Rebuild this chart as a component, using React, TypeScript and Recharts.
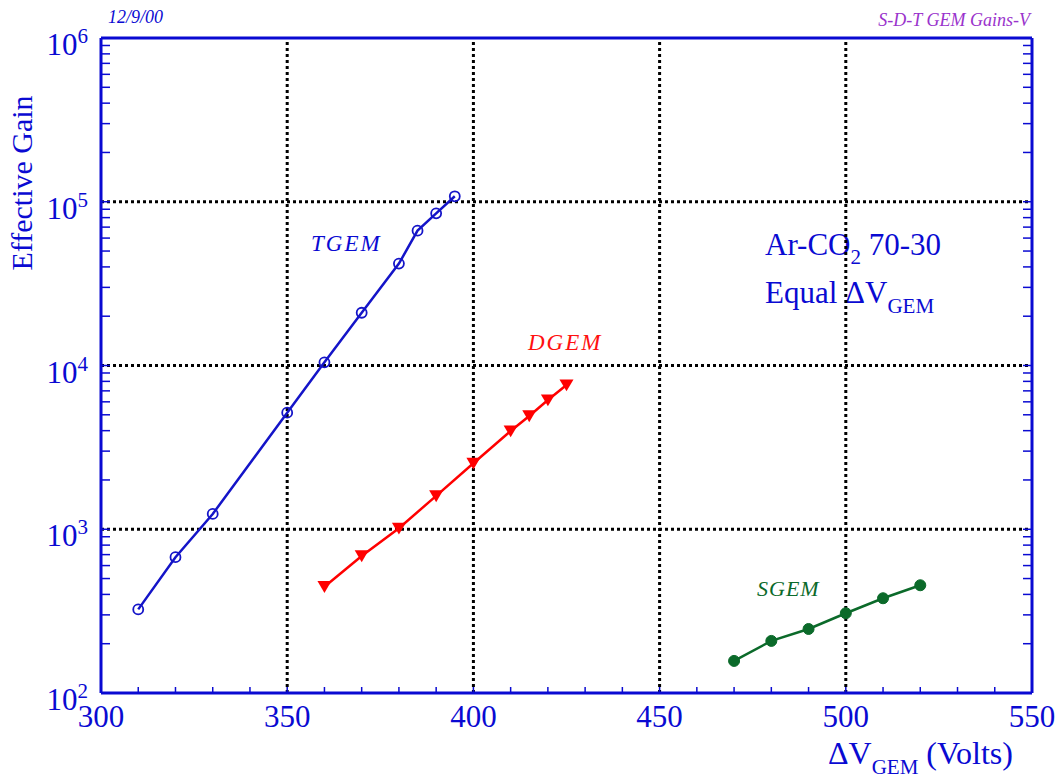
import React from 'react'
import {
  LineChart, Line, XAxis, YAxis, ReferenceLine, Customized,
} from 'recharts'

const tgemV = [310, 320, 330, 350, 360, 370, 380, 385, 390, 395]
const tgemGain = [324, 675, 1240, 5150, 10460, 21000, 41900, 66600, 85000, 108000]

const dgemV = [360, 370, 380, 390, 400, 410, 415, 420, 425]
const dgemGain = [446, 687, 1014, 1600, 2530, 3980, 4920, 6150, 7600]

const sgemV = [470, 480, 490, 500, 510, 520]
const sgemGain = [157, 208, 246, 307, 379, 455]

const xTicks = [300, 310, 320, 330, 340, 350, 360, 370, 380, 390, 400, 410, 420, 430, 440, 450,
  460, 470, 480, 490, 500, 510, 520, 530, 540, 550]
const xMajor = [300, 350, 400, 450, 500, 550]
const xGrid = [350, 400, 450, 500]

const yTicks = [
  100, 200, 300, 400, 500, 600, 700, 800, 900,
  1000, 2000, 3000, 4000, 5000, 6000, 7000, 8000, 9000,
  10000, 20000, 30000, 40000, 50000, 60000, 70000, 80000, 90000,
  100000, 200000, 300000, 400000, 500000, 600000, 700000, 800000, 900000,
  1000000,
]
const yGrid = [1000, 10000, 100000]

const tgem = tgemV.map((v, i) => ({ v, g: tgemGain[i] }))
const dgem = dgemV.map((v, i) => ({ v, g: dgemGain[i] }))
const sgem = sgemV.map((v, i) => ({ v, g: sgemGain[i] }))

const BLUE = '#0a0ad2'
const FONT = '"Liberation Serif", "Times New Roman", serif'

const isPow10 = (v: number) => Math.abs(Math.log10(v) - Math.round(Math.log10(v))) < 1e-9

const BottomTick = (props: any) => {
  const { x, y, payload } = props
  const major = xMajor.includes(payload.value)
  return (
    <g>
      <line x1={x} x2={x} y1={y} y2={y - 6} stroke={BLUE} strokeWidth={1.5} />
      {major && (
        <text x={x} y={y + 34} textAnchor="middle" fill={BLUE} fontSize={31} fontFamily={FONT}>
          {payload.value}
        </text>
      )}
    </g>
  )
}

const TopTick = (props: any) => {
  const { x, y } = props
  return <line x1={x} x2={x} y1={y} y2={y + 6} stroke={BLUE} strokeWidth={1.5} />
}

const LeftTick = (props: any) => {
  const { x, y, payload } = props
  const major = isPow10(payload.value)
  return (
    <g>
      <line x1={x} x2={x + 9} y1={y} y2={y} stroke={BLUE} strokeWidth={1.5} />
      {major && (
        <text x={x - 13} y={y + 17} textAnchor="end" fill={BLUE} fontFamily={FONT}>
          <tspan fontSize={31}>10</tspan>
          <tspan fontSize={21} dy={-12}>{Math.round(Math.log10(payload.value))}</tspan>
        </text>
      )}
    </g>
  )
}

const RightTick = (props: any) => {
  const { x, y } = props
  return <line x1={x} x2={x - 9} y1={y} y2={y} stroke={BLUE} strokeWidth={1.5} />
}

const TriangleDot = (props: any) => {
  const { cx, cy, index } = props
  if (cx == null || cy == null) return <g key={index} />
  const s = 7
  return (
    <path key={index} d={`M${cx - s},${cy - s * 0.8} L${cx + s},${cy - s * 0.8} L${cx},${cy + s * 0.9} Z`}
      fill="#ff0000" />
  )
}

const Annotations = () => (
  <g fontFamily={FONT}>
    <text x={108} y={23} fontSize={18} fontStyle="italic" fill={BLUE}>12/9/00</text>
    <text x={1030} y={26} fontSize={18} fontStyle="italic" fill="#9a33cc" textAnchor="end">S-D-T GEM Gains-V</text>
    <text x={22} y={183} fontSize={30} fill={BLUE} textAnchor="middle" transform="rotate(-90 22 183)" dy={10}>
      Effective Gain
    </text>
    <text x={828} y={764} fontSize={32} fill={BLUE}>
      ΔV<tspan fontSize={21} dy={10}>GEM</tspan><tspan dy={-10}> (Volts)</tspan>
    </text>
    <text x={311} y={251} fontSize={23} fontStyle="italic" fill={BLUE} letterSpacing={2}>TGEM</text>
    <text x={528} y={350} fontSize={23} fontStyle="italic" fill="#ff1010" letterSpacing={2}>DGEM</text>
    <text x={757} y={596} fontSize={22} fontStyle="italic" fill="#0b6a2a" letterSpacing={1}>SGEM</text>
    <text x={765} y={255} fontSize={31} fill={BLUE}>
      Ar-CO<tspan fontSize={21} dy={9}>2</tspan><tspan dy={-9}> 70-30</tspan>
    </text>
    <text x={765} y={303} fontSize={31} fill={BLUE}>
      Equal ΔV<tspan fontSize={21} dy={10}>GEM</tspan>
    </text>
  </g>
)

export default function App() {
  return (
    <div style={{ position: 'absolute', left: 0, top: 0, background: '#fff' }}>
      <LineChart width={1063} height={781} margin={{ top: 28, right: 21, bottom: 48, left: 41 }}>
        <XAxis
          xAxisId={0} dataKey="v" type="number" domain={[300, 550]} ticks={xTicks}
          allowDataOverflow interval={0}
          height={40} tickSize={0} tickMargin={0}
          axisLine={{ stroke: BLUE, strokeWidth: 3 }} tickLine={false} tick={<BottomTick />}
        />
        <XAxis
          xAxisId="top" orientation="top" type="number" domain={[300, 550]} ticks={xTicks}
          allowDataOverflow interval={0}
          height={10} tickSize={0} tickMargin={0}
          axisLine={{ stroke: BLUE, strokeWidth: 3 }} tickLine={false} tick={<TopTick />}
        />
        <YAxis
          yAxisId={0} dataKey="g" type="number" scale="log" domain={[100, 1000000]} ticks={yTicks}
          allowDataOverflow interval={0}
          width={60} tickSize={0} tickMargin={0}
          axisLine={{ stroke: BLUE, strokeWidth: 3 }} tickLine={false} tick={<LeftTick />}
        />
        <YAxis
          yAxisId="right" orientation="right" type="number" scale="log" domain={[100, 1000000]} ticks={yTicks}
          allowDataOverflow interval={0}
          width={10} tickSize={0} tickMargin={0}
          axisLine={{ stroke: BLUE, strokeWidth: 3 }} tickLine={false} tick={<RightTick />}
        />

        {xGrid.map(v => (
          <ReferenceLine key={`gx${v}`} x={v} stroke="#000" strokeWidth={3} strokeDasharray="3 3" />
        ))}
        {yGrid.map(v => (
          <ReferenceLine key={`gy${v}`} y={v} stroke="#000" strokeWidth={3} strokeDasharray="3 3" />
        ))}
        <ReferenceLine x={300} stroke="#000" strokeWidth={1.5} strokeDasharray="2 2" />
        <ReferenceLine x={550} stroke="#000" strokeWidth={1.5} strokeDasharray="2 2" />
        <ReferenceLine y={100} stroke="#000" strokeWidth={1.5} strokeDasharray="2 2" />
        <ReferenceLine y={1000000} stroke="#000" strokeWidth={1.5} strokeDasharray="2 2" />

        <Line
          data={tgem} dataKey="g" type="linear" stroke="#1414c8" strokeWidth={2.5}
          dot={{ r: 5, fill: 'none', stroke: '#1414c8', strokeWidth: 1.8 }}
          activeDot={false} isAnimationActive={false}
        />
        <Line
          data={dgem} dataKey="g" type="linear" stroke="#ff0000" strokeWidth={2.5}
          dot={<TriangleDot />} activeDot={false} isAnimationActive={false}
        />
        <Line
          data={sgem} dataKey="g" type="linear" stroke="#0b6a2a" strokeWidth={2.5}
          dot={{ r: 5.5, fill: '#0b6a2a', stroke: '#0b6a2a', strokeWidth: 1 }}
          activeDot={false} isAnimationActive={false}
        />
        <Customized component={<Annotations />} />
      </LineChart>
    </div>
  )
}
